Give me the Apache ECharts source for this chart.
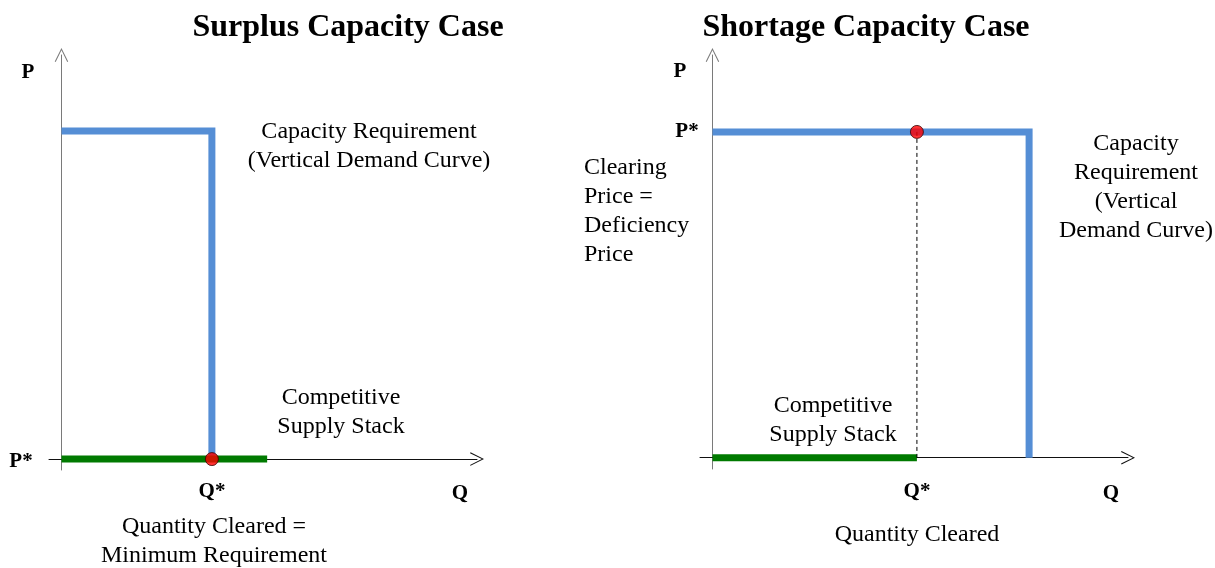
<!DOCTYPE html>
<html>
<head>
<meta charset="utf-8">
<script src="https://cdn.jsdelivr.net/npm/echarts@6/dist/echarts.min.js"></script>
<style>
  html, body { margin: 0; padding: 0; background: #fff; }
  #chart { width: 1215px; height: 568px; }
</style>
</head>
<body>
<div id="chart"></div>
<script>
// surplus case (left panel)
const surplusDemand = [[0, 81.2], [36.2, 81.2], [36.2, 0]];
const surplusSupply = [[0, 0], [49.5, 0]];
const surplusClearing = [[36.2, 0]];

// shortage case (right panel)
const shortageDemand = [[0, 80.9], [76.2, 80.9], [76.2, 0]];
const shortageSupply = [[0, 0], [49.2, 0]];
const shortageClearing = [[49.2, 80.9]];
const shortageDrop = [[49.2, 80.9], [49.2, 0]];

const serif = '"Liberation Serif", "Times New Roman", serif';
const blue = "#558ed5";
const green = "#007a00";
const arrow = "path://M0,10 L5,0 L10,10 L9.3,10.4 L5,1.6 L0.7,10.4 Z";

let myChart = echarts.init(document.getElementById("chart"));

function axis(gridIndex, min, color) {
  return {
    type: "value",
    gridIndex: gridIndex,
    min: min,
    max: 100,
    axisLine: {
      show: true,
      onZero: true,
      symbol: ["none", arrow],
      symbolSize: [14, 14],
      lineStyle: { color: color, width: 1 },
    },
    axisTick: { show: false },
    axisLabel: { show: false },
    splitLine: { show: false },
  };
}

function txt(text, x, y, opts) {
  opts = opts || {};
  return {
    type: "text",
    x: x,
    y: y,
    z: 10,
    style: {
      text: text,
      fill: "#000",
      font: (opts.bold ? "bold " : "") + (opts.size || 24) + "px " + serif,
      textAlign: opts.align || "center",
      textVerticalAlign: "middle",
      lineHeight: opts.lineHeight || 29,
    },
  };
}

function stepLine(xi, data, color, width) {
  return {
    type: "line",
    xAxisIndex: xi,
    yAxisIndex: xi,
    data: data,
    symbol: "none",
    lineStyle: { color: color, width: width, join: "miter", cap: "butt" },
  };
}

function dot(xi, data) {
  return {
    type: "scatter",
    xAxisIndex: xi,
    yAxisIndex: xi,
    data: data,
    symbolSize: 13,
    itemStyle: { color: "#ff0000", borderColor: "#3a0000", borderWidth: 1 },
    z: 5,
  };
}

let option = {
  animation: false,
  grid: [
    { left: 49, top: 55, width: 428, height: 415 },
    { left: 700, top: 55, width: 428, height: 414 },
  ],
  xAxis: [axis(0, -3, "#111"), axis(1, -3, "#111")],
  yAxis: [axis(0, -2.7, "#7a7a7a"), axis(1, -2.8, "#7a7a7a")],
  series: [
    stepLine(0, surplusDemand, blue, 7),
    stepLine(0, surplusSupply, green, 7),
    dot(0, surplusClearing),
    stepLine(1, shortageDemand, blue, 7),
    stepLine(1, shortageSupply, green, 7),
    {
      type: "line",
      xAxisIndex: 1,
      yAxisIndex: 1,
      data: shortageDrop,
      symbol: "none",
      lineStyle: { color: "#000", width: 1, type: [4, 3] },
    },
    dot(1, shortageClearing),
  ],
  graphic: [
    txt("Surplus Capacity Case", 348, 28, { bold: true, size: 32 }),
    txt("P", 28, 73, { bold: true, size: 21 }),
    txt("Capacity Requirement\n(Vertical Demand Curve)", 369, 146),
    txt("Competitive\nSupply Stack", 341, 412),
    txt("P*", 21, 462, { bold: true, size: 21 }),
    txt("Q*", 212, 492, { bold: true, size: 21 }),
    txt("Q", 460, 494, { bold: true, size: 21 }),
    txt("Quantity Cleared =\nMinimum Requirement", 214, 541),

    txt("Shortage Capacity Case", 866, 28, { bold: true, size: 32 }),
    txt("P", 680, 72, { bold: true, size: 21 }),
    txt("P*", 687, 132, { bold: true, size: 21 }),
    txt("Clearing\nPrice =\nDeficiency\nPrice", 584, 211, { align: "left" }),
    txt("Capacity\nRequirement\n(Vertical\nDemand Curve)", 1136, 187),
    txt("Competitive\nSupply Stack", 833, 420),
    txt("Q*", 917, 492, { bold: true, size: 21 }),
    txt("Q", 1111, 494, { bold: true, size: 21 }),
    txt("Quantity Cleared", 917, 535),
  ],
};

myChart.setOption(option);
</script>
</body>
</html>
